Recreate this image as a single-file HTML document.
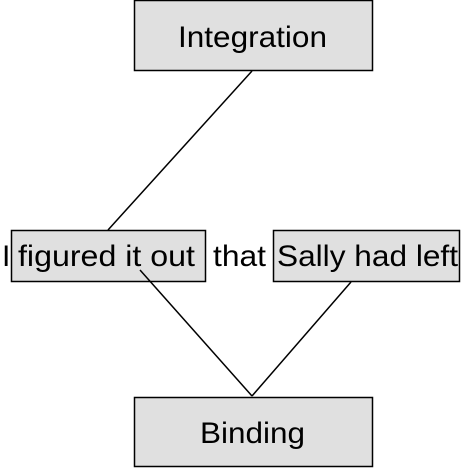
<!DOCTYPE html>
<html><head><style>
body{margin:0;background:#fff;}
</style></head><body>
<svg width="461" height="468" xmlns="http://www.w3.org/2000/svg" font-family="Liberation Sans, Arial, sans-serif">
<rect x="0" y="0" width="461" height="468" fill="#fff"/>
<rect x="134.5" y="0.5" width="238" height="70" fill="#e0e0e0" stroke="#000" stroke-width="1.5"/>
<text x="178" y="47" font-size="30" textLength="149" lengthAdjust="spacingAndGlyphs">Integration</text>
<line x1="252" y1="71" x2="108" y2="230" stroke="#000" stroke-width="1.5"/>
<rect x="11.5" y="230.5" width="194" height="51" fill="#e0e0e0" stroke="#000" stroke-width="1.5"/>
<rect x="273.5" y="230.5" width="186" height="51" fill="#e0e0e0" stroke="#000" stroke-width="1.5"/>
<text x="2" y="266" font-size="30">I</text>
<text x="18" y="266" font-size="30" textLength="177" lengthAdjust="spacingAndGlyphs">figured it out</text>
<text x="213" y="266" font-size="30" textLength="53" lengthAdjust="spacingAndGlyphs">that</text>
<text x="277" y="266" font-size="30" textLength="181" lengthAdjust="spacingAndGlyphs">Sally had left</text>
<line x1="140" y1="270" x2="252" y2="396" stroke="#000" stroke-width="1.5"/>
<line x1="351" y1="282" x2="252" y2="396" stroke="#000" stroke-width="1.5"/>
<rect x="134.5" y="397.5" width="238" height="69" fill="#e0e0e0" stroke="#000" stroke-width="1.5"/>
<text x="200" y="443" font-size="30" textLength="105" lengthAdjust="spacingAndGlyphs">Binding</text>
</svg>
</body></html>
